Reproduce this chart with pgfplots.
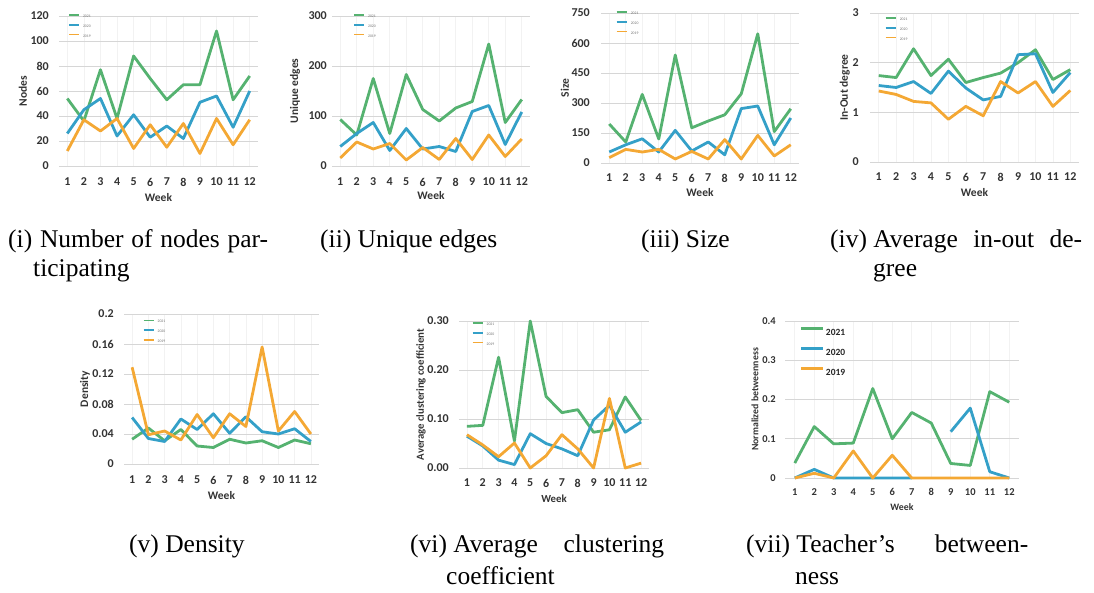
\documentclass[border=0pt]{standalone}
\usepackage{fontspec}
\setmainfont{Liberation Serif}
\setsansfont{Carlito}
\usepackage{pgfplots}
\pgfplotsset{compat=1.18}

\definecolor{c21}{RGB}{85,178,112}
\definecolor{c20}{RGB}{52,160,200}
\definecolor{c19}{RGB}{244,168,52}

\pgfplotsset{
  wk/.style={
    scale only axis, axis line style={draw=none}, clip=false,
    xmin=0.5, xmax=12.5, ymin=0,
    xtick={1,...,12}, xticklabels={1,2,3,4,5,6,7,8,9,10,11,12},
    major tick length=0pt, scaled y ticks=false,
    ymajorgrids, xmajorgrids,
    y grid style={black!16, line width=0.9pt},
    x grid style={black!5, line width=0.6pt},
    tick label style={font=\fontsize{12}{13}\selectfont\sffamily\bfseries, text=black!80, inner sep=0pt},
    xticklabel style={anchor=center},
    yticklabel style={anchor=east},
    label style={font=\fontsize{11.5}{13}\selectfont\sffamily\bfseries, text=black!80},
    xlabel={Week},
    every axis plot/.append style={line width=2.8pt, line join=round, no markers},
    legend cell align=left,
    legend image code/.code={\draw[##1, line width=1.3pt] (0pt,1.5pt) -- (10pt,1.5pt);},
    legend style={draw=none, fill=none, inner sep=0pt, outer sep=0pt, anchor=north west,
      font=\fontsize{3.8}{4}\selectfont\sffamily, text=black!55,
      nodes={inner sep=0pt, text height=2.8pt, text depth=0.4pt},
      row sep=6.1pt,
      /tikz/every odd column/.append style={column sep=3.4pt}},
  },
  pos/.style n args={4}{xlabel style={at={(axis description cs:0.5,#2)}, anchor=center},
    ylabel style={at={(axis description cs:#1,0.5)}, anchor=center},
    legend style={at={(axis description cs:#3,#4)}}},
}

\begin{document}
\begin{tikzpicture}
\useasboundingbox (0,0) rectangle (1094pt,592pt);

% (i) nodes
\begin{axis}[wk, at={(59pt,426pt)}, anchor=south west, width=199pt, height=150pt,
  ymax=120, ytick={0,20,...,120}, yticklabels={0,20,40,60,80,100,120},
  xticklabel shift=16pt, yticklabel shift=10pt,
  ylabel={Nodes}, pos={-0.181}{-0.207}{0.047}{1.010}]
\addplot[c21] coordinates {(1,54)(2,36)(3,77)(4,38)(5,88)(6,70)(7,53)(8,65)(9,65)(10,108)(11,53)(12,72)};
\addplot[c20] coordinates {(1,26)(2,45)(3,54)(4,24)(5,41)(6,23)(7,32)(8,22)(9,51)(10,56)(11,31)(12,60)};
\addplot[c19] coordinates {(1,12)(2,37)(3,28)(4,38)(5,14)(6,33)(7,15)(8,34)(9,10)(10,38)(11,17)(12,37)};
\legend{2021,2020,2019}
\end{axis}

% (ii) unique edges
\begin{axis}[wk, at={(332pt,426pt)}, anchor=south west, width=198pt, height=150pt,
  ymax=300, ytick={0,100,200,300}, yticklabels={0,100,200,300},
  xticklabel shift=16pt, yticklabel shift=5pt,
  ylabel={Unique edges}, pos={-0.187}{-0.2}{0.108}{1.010}]
\addplot[c21] coordinates {(1,93)(2,62)(3,175)(4,65)(5,183)(6,113)(7,90)(8,116)(9,129)(10,244)(11,87)(12,133)};
\addplot[c20] coordinates {(1,39)(2,65)(3,87)(4,31)(5,75)(6,34)(7,39)(8,29)(9,109)(10,121)(11,43)(12,108)};
\addplot[c19] coordinates {(1,16)(2,48)(3,34)(4,45)(5,12)(6,37)(7,13)(8,55)(9,13)(10,62)(11,19)(12,54)};
\legend{2021,2020,2019}
\end{axis}

% (iii) size
\begin{axis}[wk, at={(601pt,429pt)}, anchor=south west, width=198pt, height=150pt,
  ymax=750, ytick={0,150,...,750}, yticklabels={0,150,300,450,600,750},
  xticklabel shift=15pt, yticklabel shift=11pt,
  ylabel={Size}, pos={-0.182}{-0.2}{0.076}{1.010}]
\addplot[c21] coordinates {(1,195)(2,105)(3,343)(4,120)(5,540)(6,176)(7,210)(8,241)(9,346)(10,646)(11,157)(12,271)};
\addplot[c20] coordinates {(1,55)(2,91)(3,121)(4,55)(5,163)(6,60)(7,105)(8,41)(9,272)(10,285)(11,91)(12,225)};
\addplot[c19] coordinates {(1,27)(2,68)(3,55)(4,68)(5,20)(6,58)(7,20)(8,117)(9,20)(10,138)(11,35)(12,91)};
\legend{2021,2020,2019}
\end{axis}

% (iv) in-out degree
\begin{axis}[wk, at={(870pt,430pt)}, anchor=south west, width=209pt, height=149pt,
  ymax=3, ytick={0,1,2,3}, yticklabels={0,1,2,3},
  xticklabel shift=15pt, yticklabel shift=11pt,
  ylabel={In-Out degree}, pos={-0.120}{-0.208}{0.072}{0.970}]
\addplot[c21] coordinates {(1,1.74)(2,1.70)(3,2.28)(4,1.74)(5,2.07)(6,1.60)(7,1.70)(8,1.79)(9,2.00)(10,2.26)(11,1.66)(12,1.86)};
\addplot[c20] coordinates {(1,1.54)(2,1.50)(3,1.62)(4,1.38)(5,1.83)(6,1.49)(7,1.25)(8,1.32)(9,2.16)(10,2.18)(11,1.40)(12,1.80)};
\addplot[c19] coordinates {(1,1.43)(2,1.36)(3,1.22)(4,1.19)(5,0.86)(6,1.12)(7,0.93)(8,1.62)(9,1.39)(10,1.62)(11,1.12)(12,1.44)};
\legend{2021,2020,2019}
\end{axis}

% (v) density
\begin{axis}[wk, at={(124pt,128pt)}, anchor=south west, width=195pt, height=150pt,
  ymax=0.2, ytick={0,0.04,0.08,0.12,0.16,0.2}, yticklabels={0,0.04,0.08,0.12,0.16,0.2},
  xticklabel shift=16pt, yticklabel shift=10pt,
  ylabel={Density}, pos={-0.2}{-0.207}{0.097}{0.963}]
\addplot[c21] coordinates {(1,0.033)(2,0.048)(3,0.031)(4,0.046)(5,0.024)(6,0.022)(7,0.033)(8,0.028)(9,0.031)(10,0.022)(11,0.032)(12,0.027)};
\addplot[c20] coordinates {(1,0.062)(2,0.034)(3,0.030)(4,0.060)(5,0.046)(6,0.067)(7,0.041)(8,0.063)(9,0.043)(10,0.040)(11,0.047)(12,0.030)};
\addplot[c19] coordinates {(1,0.129)(2,0.039)(3,0.044)(4,0.032)(5,0.066)(6,0.035)(7,0.067)(8,0.050)(9,0.156)(10,0.044)(11,0.070)(12,0.040)};
\legend{2021,2020,2019}
\end{axis}

% (vi) clustering
\begin{axis}[wk, at={(459pt,124pt)}, anchor=south west, width=190pt, height=147pt,
  ymax=0.3, ytick={0,0.1,0.2,0.3}, yticklabels={0.00,0.10,0.20,0.30},
  xticklabel shift=15pt, yticklabel shift=10pt,
  ylabel={Average clustering coefficient}, pos={-0.2}{-0.211}{0.068}{0.990},
  label style={font=\fontsize{10.8}{12}\selectfont\sffamily\bfseries}]
\addplot[c21] coordinates {(1,0.085)(2,0.087)(3,0.226)(4,0.055)(5,0.300)(6,0.146)(7,0.113)(8,0.119)(9,0.073)(10,0.078)(11,0.145)(12,0.097)};
\addplot[c20] coordinates {(1,0.065)(2,0.045)(3,0.016)(4,0.007)(5,0.070)(6,0.050)(7,0.039)(8,0.025)(9,0.098)(10,0.128)(11,0.073)(12,0.094)};
\addplot[c19] coordinates {(1,0.068)(2,0.047)(3,0.023)(4,0.051)(5,0)(6,0.025)(7,0.068)(8,0.039)(9,0)(10,0.142)(11,0)(12,0.010)};
\legend{2021,2020,2019}
\end{axis}

% (vii) betweenness
\begin{axis}[wk, at={(785pt,114pt)}, anchor=south west, width=234pt, height=157pt,
  ymax=0.4, ytick={0,0.1,0.2,0.3,0.4}, yticklabels={0,0.1,0.2,0.3,0.4},
  xticklabel shift=14pt, yticklabel shift=9pt, unbounded coords=jump,
  tick label style={font=\fontsize{10.5}{12}\selectfont\sffamily\bfseries},
  label style={font=\fontsize{9.8}{12}\selectfont\sffamily\bfseries},
  ylabel={Normalized betweenness}, pos={-0.128}{-0.185}{0.064}{0.959},
  legend image code/.code={\draw[#1, line width=3pt] (0pt,3.3pt) -- (22pt,3.3pt);},
  legend style={font=\fontsize{9.5}{11}\selectfont\sffamily\bfseries, text=black!85,
    nodes={inner sep=0pt, text height=6.6pt, text depth=0pt}, row sep=11.9pt,
    /tikz/every odd column/.append style={column sep=1pt}}]
\addplot[c21] coordinates {(1,0.038)(2,0.131)(3,0.087)(4,0.089)(5,0.228)(6,0.100)(7,0.167)(8,0.140)(9,0.037)(10,0.032)(11,0.220)(12,0.193)};
\addplot[c20] coordinates {(1,0)(2,0.022)(3,0)(4,0)(5,0)(6,0)(7,0)(8,nan)(9,0.118)(10,0.178)(11,0.016)(12,0)};
\addplot[c19] coordinates {(1,0)(2,0.012)(3,0)(4,0.069)(5,0)(6,0.058)(7,0)(8,0)(9,0)(10,0)(11,0)(12,0)};
\legend{2021,2020,2019}
\end{axis}

% captions
\begin{scope}[every node/.style={anchor=base west, inner sep=0pt, font=\fontsize{25.5}{30}\selectfont}]
\node at (8pt,344pt) {\makebox[260pt][s]{(i) Number of nodes par-}};
\node at (33pt,315pt) {ticipating};
\node at (320pt,344pt) {(ii) Unique edges};
\node at (641pt,344pt) {(iii) Size};
\node at (830pt,344pt) {\hbox to 252pt{(iv) Average\hfill in-out\hfill de-}};
\node at (873pt,315pt) {gree};
\node at (129pt,40pt) {(v) Density};
\node at (410pt,40pt) {\hbox to 254pt{(vi) Average\hfill clustering}};
\node at (446pt,8pt) {coefficient};
\node at (746pt,40pt) {\hbox to 282pt{(vii) Teacher’s\hfill between-}};
\node at (795pt,8pt) {ness};
\end{scope}
\end{tikzpicture}
\end{document}
